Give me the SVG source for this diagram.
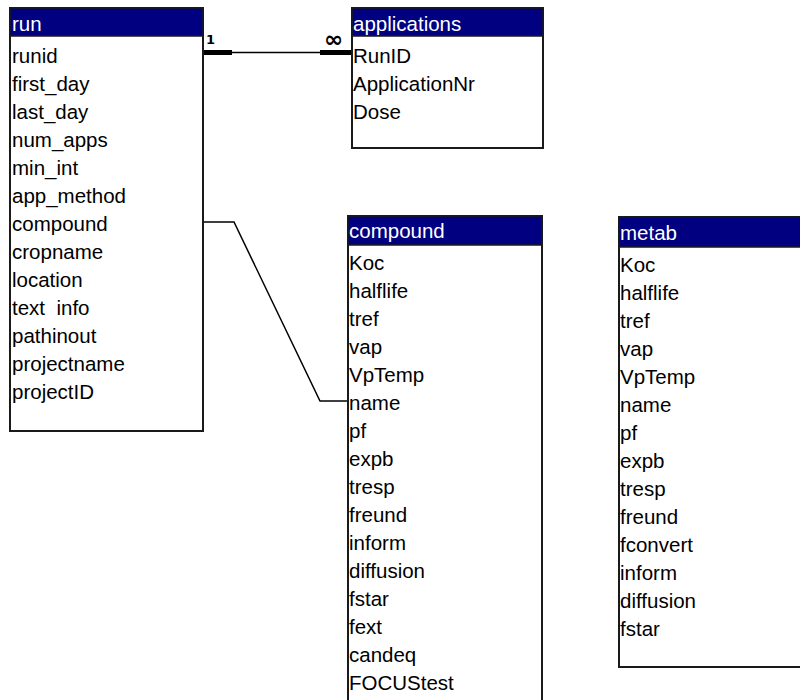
<svg xmlns="http://www.w3.org/2000/svg" width="800" height="700" viewBox="0 0 800 700">
<style>
.box{fill:#fff;stroke:#1a1a1a;stroke-width:2}
.hdr{fill:#000080;stroke:#1a1a1a;stroke-width:1.5}
.ht{fill:#fff;font-family:"Liberation Sans",Arial,sans-serif;font-size:20.5px}
.ft{fill:#000;font-family:"Liberation Sans",Arial,sans-serif;font-size:20.5px}
.ln{fill:none;stroke:#000;stroke-width:1.5}
.bar{fill:#000}
.card{fill:#000;font-family:"DejaVu Sans",sans-serif;font-weight:bold}
</style>
<rect width="800" height="700" fill="#fff"/>
<g id="connectors">
  <line class="ln" x1="203" y1="52.5" x2="352" y2="52.5"/>
  <rect class="bar" x="203" y="50" width="29" height="5"/>
  <rect class="bar" x="320" y="50" width="32" height="5"/>
  <text class="card" x="206" y="44" font-size="13">1</text>
  <text class="card" x="324" y="47" font-size="23">∞</text>
  <polyline class="ln" points="203,222 234,222 320,401 348,401"/>
</g>
<g id="run">
  <rect class="box" x="10" y="8" width="193" height="423"/>
  <rect class="hdr" x="10" y="8" width="193" height="28"/>
  <text class="ht" x="12" y="31">run</text>
  <text class="ft" x="12" y="63">runid</text>
  <text class="ft" x="12" y="91">first_day</text>
  <text class="ft" x="12" y="119">last_day</text>
  <text class="ft" x="12" y="147">num_apps</text>
  <text class="ft" x="12" y="175">min_int</text>
  <text class="ft" x="12" y="203">app_method</text>
  <text class="ft" x="12" y="231">compound</text>
  <text class="ft" x="12" y="259">cropname</text>
  <text class="ft" x="12" y="287">location</text>
  <text class="ft" x="12" y="315" xml:space="preserve">text  info</text>
  <text class="ft" x="12" y="343">pathinout</text>
  <text class="ft" x="12" y="371">projectname</text>
  <text class="ft" x="12" y="399">projectID</text>
</g>
<g id="applications">
  <rect class="box" x="352" y="8" width="191" height="140"/>
  <rect class="hdr" x="352" y="8" width="191" height="28"/>
  <text class="ht" x="353" y="31">applications</text>
  <text class="ft" x="353" y="63">RunID</text>
  <text class="ft" x="353" y="91">ApplicationNr</text>
  <text class="ft" x="353" y="119">Dose</text>
</g>
<g id="compound">
  <rect class="box" x="348" y="216" width="194" height="500"/>
  <rect class="hdr" x="348" y="216" width="194" height="29"/>
  <text class="ht" x="349" y="238">compound</text>
  <text class="ft" x="349" y="270">Koc</text>
  <text class="ft" x="349" y="298">halflife</text>
  <text class="ft" x="349" y="326">tref</text>
  <text class="ft" x="349" y="354">vap</text>
  <text class="ft" x="349" y="382">VpTemp</text>
  <text class="ft" x="349" y="410">name</text>
  <text class="ft" x="349" y="438">pf</text>
  <text class="ft" x="349" y="466">expb</text>
  <text class="ft" x="349" y="494">tresp</text>
  <text class="ft" x="349" y="522">freund</text>
  <text class="ft" x="349" y="550">inform</text>
  <text class="ft" x="349" y="578">diffusion</text>
  <text class="ft" x="349" y="606">fstar</text>
  <text class="ft" x="349" y="634">fext</text>
  <text class="ft" x="349" y="662">candeq</text>
  <text class="ft" x="349" y="690">FOCUStest</text>
</g>
<g id="metab">
  <rect class="box" x="619" y="217" width="200" height="450"/>
  <rect class="hdr" x="619" y="217" width="200" height="30"/>
  <text class="ht" x="620" y="240">metab</text>
  <text class="ft" x="620" y="272">Koc</text>
  <text class="ft" x="620" y="300">halflife</text>
  <text class="ft" x="620" y="328">tref</text>
  <text class="ft" x="620" y="356">vap</text>
  <text class="ft" x="620" y="384">VpTemp</text>
  <text class="ft" x="620" y="412">name</text>
  <text class="ft" x="620" y="440">pf</text>
  <text class="ft" x="620" y="468">expb</text>
  <text class="ft" x="620" y="496">tresp</text>
  <text class="ft" x="620" y="524">freund</text>
  <text class="ft" x="620" y="552">fconvert</text>
  <text class="ft" x="620" y="580">inform</text>
  <text class="ft" x="620" y="608">diffusion</text>
  <text class="ft" x="620" y="636">fstar</text>
</g>
</svg>
